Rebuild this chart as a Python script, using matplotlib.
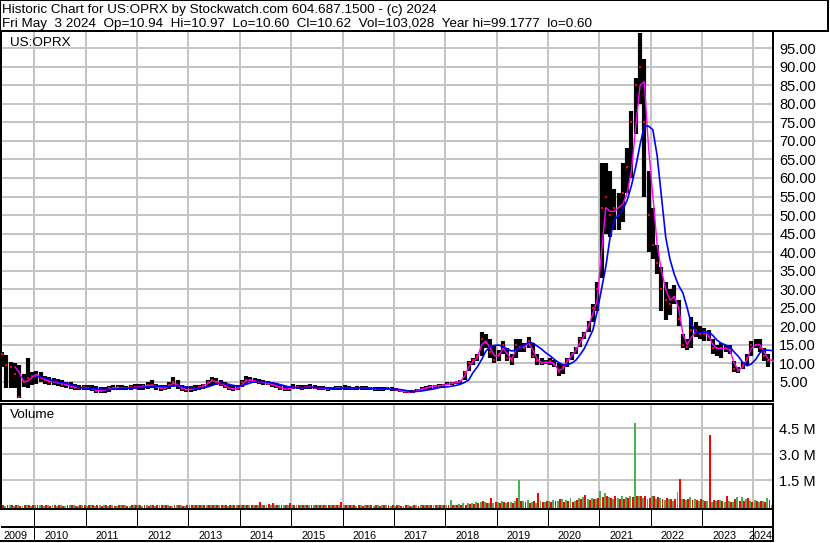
import numpy as np
import pandas as pd
import matplotlib
matplotlib.use("Agg")
import matplotlib.pyplot as plt

# stockwatch style historic chart, monthly bars
title_line = "Historic Chart for US:OPRX by Stockwatch.com 604.687.1500 - (c) 2024"
quote_line = "Fri May  3 2024  Op=10.94  Hi=10.97  Lo=10.60  Cl=10.62  Vol=103,028  Year hi=99.1777  lo=0.60"
symbol = "US:OPRX"

months = pd.period_range("2009-05", "2024-05", freq="M")

high = [
    13.0, 12.2, 10.4, 10.0, 9.5, 7.0, 11.4, 7.5,
    8.0, 7.5, 6.5, 6.2, 6.0, 5.8, 5.5, 5.0, 4.8, 4.5, 4.2, 4.0,
    4.2, 4.0, 3.8, 3.5, 3.6, 3.8, 4.0, 4.2, 4.0, 3.8, 4.0, 4.3,
    4.3, 4.5, 4.8, 5.5, 4.5, 4.0, 4.2, 5.0, 6.3, 5.5, 4.0, 3.8,
    3.8, 4.0, 4.2, 4.5, 5.5, 6.3, 6.0, 5.5, 4.8, 4.2, 3.8, 4.0,
    5.5, 6.5, 6.3, 6.0, 5.8, 5.5, 5.2, 5.0, 4.6, 4.2, 3.9, 3.8,
    4.5, 4.2, 4.0, 4.2, 4.3, 4.0, 3.9, 3.8, 3.6, 3.7, 3.8, 3.9,
    4.0, 3.8, 3.7, 3.8, 3.9, 3.8, 3.7, 3.6, 3.5, 3.5, 3.6, 3.6,
    3.2, 3.0, 2.8, 2.7, 2.8, 3.0, 3.5, 3.8, 4.1, 4.2, 4.3, 4.5,
    4.8, 4.9, 5.0, 5.5, 8.0, 10.5, 11.5, 12.5, 18.5, 18.0, 16.5, 15.0,
    13.5, 16.0, 14.0, 12.5, 16.5, 16.5, 15.5, 17.2, 15.5, 12.5, 11.5, 11.0,
    11.5, 11.0, 10.0, 9.5, 11.5, 13.0, 14.5, 17.0, 18.5, 21.5, 26.0, 32.0,
    64.0, 64.0, 62.0, 57.0, 56.0, 64.0, 68.0, 78.0, 87.0, 99.2, 92.0, 62.0,
    52.0, 42.0, 36.0, 32.0, 30.0, 31.0, 27.0, 18.0, 16.5, 22.5, 21.0, 20.0,
    19.5, 19.0, 16.5, 15.0, 15.5, 15.0, 15.0, 10.5, 9.0, 10.3, 12.5, 16.0,
    16.5, 16.5, 14.0, 12.5, 10.97,
]
low = [
    9.0, 3.3, 3.3, 3.3, 0.6, 3.5, 3.3, 4.0,
    4.5, 4.8, 4.5, 4.2, 4.0, 3.8, 3.5, 3.2, 3.0, 2.9, 2.8, 2.9,
    2.8, 2.5, 2.0, 1.9, 2.0, 2.3, 2.8, 2.9, 2.8, 2.7, 2.8, 3.0,
    2.8, 2.9, 3.0, 3.2, 2.8, 2.6, 2.8, 3.0, 3.5, 3.0, 2.4, 2.3,
    2.3, 2.5, 2.8, 3.0, 3.5, 4.0, 4.0, 3.8, 3.2, 2.8, 2.6, 2.8,
    3.5, 4.5, 4.8, 4.6, 4.4, 4.2, 4.0, 3.6, 3.2, 2.8, 2.6, 2.5,
    3.0, 3.0, 2.9, 3.0, 3.1, 3.0, 2.9, 2.8, 2.6, 2.7, 2.8, 2.9,
    2.9, 2.8, 2.7, 2.8, 2.9, 2.8, 2.7, 2.6, 2.6, 2.6, 2.7, 2.6,
    2.4, 2.2, 2.0, 1.9, 2.0, 2.1, 2.5, 2.8, 3.0, 3.2, 3.3, 3.4,
    4.0, 4.2, 4.3, 4.5, 5.5, 8.0, 9.5, 10.5, 12.0, 14.0, 11.5, 10.0,
    10.5, 12.5, 10.5, 9.5, 11.5, 13.0, 13.0, 14.0, 11.5, 9.5, 9.5, 9.8,
    9.5, 9.0, 6.5, 7.0, 9.0, 11.0, 12.5, 14.5, 16.5, 18.5, 21.0, 24.0,
    33.0, 45.0, 44.0, 46.0, 46.0, 48.0, 56.0, 60.0, 72.0, 80.0, 55.0, 40.0,
    38.0, 34.0, 24.0, 21.6, 23.0, 26.0, 20.0, 14.0, 13.5, 14.0, 17.0, 16.5,
    16.0, 16.0, 12.5, 12.0, 11.5, 13.0, 12.5, 7.5, 7.3, 8.5, 9.5, 12.0,
    14.0, 13.0, 10.5, 9.0, 10.6,
]
close = [
    12.5, 9.5, 9.0, 7.0, 1.0, 5.0, 6.0, 6.5,
    6.5, 6.0, 5.5, 5.0, 4.8, 4.6, 4.2, 4.0, 3.6, 3.4, 3.3, 3.5,
    3.3, 3.0, 2.5, 2.4, 2.8, 3.2, 3.4, 3.5, 3.3, 3.2, 3.5, 3.7,
    3.6, 3.8, 4.0, 4.2, 3.5, 3.2, 3.4, 4.0, 5.0, 3.8, 3.0, 2.8,
    3.0, 3.2, 3.5, 4.0, 4.8, 5.5, 5.0, 4.3, 3.8, 3.2, 3.0, 3.4,
    4.8, 5.6, 5.5, 5.2, 5.0, 4.8, 4.5, 4.2, 3.8, 3.3, 3.0, 3.0,
    3.6, 3.5, 3.4, 3.6, 3.6, 3.4, 3.3, 3.2, 3.0, 3.2, 3.3, 3.4,
    3.4, 3.3, 3.2, 3.3, 3.4, 3.3, 3.2, 3.1, 3.0, 3.1, 3.2, 3.0,
    2.8, 2.5, 2.3, 2.2, 2.4, 2.7, 3.1, 3.4, 3.6, 3.8, 3.9, 4.0,
    4.5, 4.6, 4.8, 5.2, 7.5, 10.0, 11.0, 12.0, 16.5, 15.5, 13.0, 11.0,
    12.5, 15.0, 11.5, 10.5, 15.0, 14.5, 14.0, 16.0, 12.0, 10.5, 10.0, 10.2,
    10.5, 9.5, 7.5, 9.0, 11.0, 12.5, 14.0, 16.5, 18.0, 20.5, 25.0, 30.0,
    52.0, 55.0, 50.0, 52.0, 50.0, 56.0, 63.0, 75.0, 85.0, 90.0, 75.0, 50.0,
    42.0, 37.0, 30.0, 27.0, 26.0, 28.0, 22.0, 15.0, 14.5, 19.0, 19.0, 18.0,
    18.0, 17.0, 14.0, 14.0, 14.0, 14.0, 13.5, 8.5, 8.0, 9.5, 11.5, 15.0,
    15.0, 14.0, 12.0, 10.5, 10.62,
]
ma_short = [
    np.nan, np.nan, np.nan, 9.0, 7.5, 5.0, 5.2, 6.2,
    7.0, 6.2, 5.6, 5.2, 5.0, 4.8, 4.5, 4.2, 3.8, 3.5, 3.4, 3.4,
    3.4, 3.1, 2.7, 2.5, 2.7, 3.0, 3.3, 3.4, 3.3, 3.2, 3.3, 3.5,
    3.6, 3.7, 3.9, 4.1, 3.7, 3.3, 3.3, 3.8, 4.6, 4.2, 3.3, 2.9,
    2.9, 3.1, 3.4, 3.8, 4.5, 5.2, 5.1, 4.6, 4.0, 3.4, 3.1, 3.2,
    4.2, 5.3, 5.4, 5.2, 5.0, 4.8, 4.6, 4.3, 3.9, 3.5, 3.1, 3.0,
    3.4, 3.5, 3.4, 3.5, 3.6, 3.4, 3.3, 3.2, 3.1, 3.1, 3.3, 3.4,
    3.4, 3.3, 3.2, 3.3, 3.4, 3.3, 3.2, 3.1, 3.0, 3.1, 3.1, 3.0,
    2.9, 2.6, 2.4, 2.3, 2.3, 2.6, 3.0, 3.3, 3.6, 3.8, 3.9, 4.0,
    4.3, 4.5, 4.7, 5.0, 6.5, 9.0, 10.5, 11.5, 15.0, 16.0, 14.0, 12.0,
    12.0, 14.0, 12.5, 11.0, 13.5, 14.5, 14.3, 15.5, 13.5, 11.0, 10.2, 10.2,
    10.3, 9.8, 8.0, 8.5, 10.5, 12.0, 13.5, 15.5, 17.5, 20.0, 23.5, 27.0,
    40.0, 52.0, 51.0, 51.0, 52.0, 53.0, 56.0, 62.0, 74.0, 85.0, 86.0, 68.0,
    55.0, 42.0, 35.0, 30.0, 27.0, 28.0, 25.0, 18.0, 15.0, 17.0, 18.5, 18.0,
    18.5, 17.5, 15.0, 14.0, 14.0, 14.0, 13.5, 10.0, 8.0, 9.0, 11.0, 14.0,
    15.0, 15.0, 13.0, 11.0, 10.8,
]
ma_long = [
    np.nan, np.nan, np.nan, np.nan, np.nan, np.nan, np.nan, np.nan,
    6.3, 6.3, 6.0, 5.6, 5.2, 5.0, 4.8, 4.6, 4.2, 3.9, 3.4, 3.3,
    3.2, 3.2, 3.1, 3.0, 2.9, 2.9, 3.0, 3.1, 3.2, 3.2, 3.3, 3.3,
    3.4, 3.5, 3.6, 3.7, 3.8, 3.8, 3.7, 3.7, 3.9, 4.0, 3.8, 3.6,
    3.4, 3.3, 3.3, 3.4, 3.6, 4.0, 4.4, 4.6, 4.5, 4.3, 4.0, 3.8,
    3.9, 4.3, 4.7, 5.0, 5.1, 5.0, 4.9, 4.7, 4.5, 4.2, 3.9, 3.6,
    3.5, 3.4, 3.4, 3.4, 3.5, 3.5, 3.4, 3.4, 3.3, 3.2, 3.2, 3.2,
    3.3, 3.3, 3.3, 3.3, 3.3, 3.3, 3.2, 3.2, 3.1, 3.1, 3.1, 3.0,
    3.0, 2.9, 2.7, 2.5, 2.4, 2.4, 2.5, 2.7, 2.9, 3.1, 3.4, 3.6,
    3.6, 3.8, 4.0, 4.3, 4.8, 5.5, 7.5, 9.0, 11.0, 13.3, 14.5, 14.8,
    14.9, 14.5, 13.8, 13.3, 13.5, 14.2, 15.0, 15.6, 15.4, 14.6, 13.8, 12.8,
    12.0, 11.0, 10.2, 9.6, 9.6, 10.0, 10.8, 12.3, 14.0, 16.5, 19.0, 24.0,
    30.0, 36.0, 44.0, 48.6, 50.0, 51.5, 54.0, 58.0, 63.0, 69.0, 74.0, 74.0,
    73.0, 66.0, 55.0, 44.0, 38.0, 34.0, 31.0, 29.0, 25.0, 20.5, 18.5, 18.2,
    18.3, 18.5, 17.5, 16.2, 15.4, 14.9, 14.4, 13.0, 11.8, 10.2, 9.3, 9.8,
    11.0, 12.8, 13.6, 13.5, 13.4,
]
# volume in millions, up days (green) and down days (red)
vol_up = [
    .03, .02, .04, .02, .03, .02, .03, .02,
    .03, .04, .02, .03, .05, .02, .03, .02, .04, .03, .02, .03,
    .02, .03, .02, .04, .03, .02, .03, .02, .03, .04, .02, .03,
    .03, .02, .04, .03, .02, .03, .05, .03, .02, .03, .04, .02,
    .03, .04, .03, .05, .06, .04, .03, .04, .03, .02, .03, .04,
    .05, .08, .06, .04, .05, .04, .03, .04, .05, .03, .04, .03,
    .04, .03, .05, .04, .03, .04, .03, .05, .04, .03, .04, .03,
    .03, .04, .03, .02, .03, .04, .03, .02, .03, .04, .03, .02,
    .02, .03, .02, .03, .02, .03, .04, .03, .05, .04, .06, .05,
    .05, .35, .08, .10, .15, .18, .15, .25, .20, .25, .15, .18,
    .22, .30, .18, .22, .30, 1.50, .30, .35, .22, .18, .30, .25,
    .30, .35, .30, .40, .35, .45, .30, .45, .50, .40, .45, .40,
    .89, .75, .50, .40, .45, .60, .50, .55, 4.80, .60, .45, .40,
    .60, .40, .45, .35, .40, .30, .80, .40, .35, .50, .40, .30,
    .35, .30, .25, .30, .35, .25, .30, .25, .50, .50, .40, .30,
    .35, .25, .30, .45, .08,
]
vol_down = [
    .04, .03, .03, .05, .02, .04, .03, .03,
    .05, .03, .04, .02, .03, .04, .02, .05, .03, .02, .04, .03,
    .03, .04, .03, .02, .04, .03, .02, .04, .03, .02, .03, .04,
    .04, .03, .02, .04, .03, .05, .03, .02, .04, .03, .02, .03,
    .04, .03, .05, .04, .08, .05, .04, .03, .05, .04, .03, .04,
    .05, .04, .06, .05, .20, .08, .12, .18, .05, .06, .04, .15,
    .03, .05, .04, .03, .04, .03, .05, .04, .03, .04, .05, .20,
    .04, .03, .04, .03, .02, .03, .04, .03, .02, .03, .04, .03,
    .03, .02, .03, .02, .03, .02, .03, .04, .03, .05, .04, .06,
    .06, .08, .07, .08, .08, .12, .10, .15, .30, .18, .45, .25,
    .18, .22, .25, .15, .45, .28, .22, .18, .28, .77, .22, .28,
    .22, .28, .40, .22, .28, .25, .35, .40, .64, .35, .40, .45,
    .50, .60, .45, .55, .40, .40, .45, .50, .60, .55, .60, .46,
    .55, .50, .40, .45, .38, .40, 1.56, .40, .40, .35, .35, .40,
    .30, 4.10, .35, .35, .30, .55, .25, .40, .30, .28, .45, .25,
    .30, .30, .20, .35, .12,
]

year_labels = list(range(2009, 2025))
price_ticks = list(range(5, 100, 5))
vol_ticks = [1.5, 3.0, 4.5]

plt.rcParams["font.family"] = ["Liberation Sans Narrow", "Liberation Sans", "DejaVu Sans"]

W, H = 830, 543
def box(l, t, r, b):
    return [l / W, 1 - b / H, (r - l) / W, (b - t) / H]

t = months.year + (months.month - 0.5) / 12
xlim = (2009.352, 2024.38)
grid_c = "#c4c4c4"
frame_lw = 1.44
text_size = 9.7

fig = plt.figure(figsize=(8.3, 5.43), dpi=100)

# header box
hdr = fig.add_axes(box(0, 0, 828, 31))
hdr.set_xticks([])
hdr.set_yticks([])
for s in hdr.spines.values():
    s.set_linewidth(frame_lw)
fig.text(2 / W, 1 - 12.7 / H, title_line, fontsize=text_size, va="baseline")
fig.text(2 / W, 1 - 26.7 / H, quote_line, fontsize=text_size, va="baseline")

def style_panel(a, ticks, labels):
    a.set_xlim(*xlim)
    a.set_xticks([])
    a.set_yticks(ticks)
    a.set_yticklabels(labels)
    a.yaxis.tick_right()
    a.tick_params(axis="y", length=0, pad=4.5, labelsize=10.5)
    # crisp 1px grid like the original
    a.vlines(year_labels[1:], 0, 1, transform=a.get_xaxis_transform(),
             color=grid_c, lw=1.4, antialiased=False, zorder=1)
    a.hlines(ticks, 0, 1, transform=a.get_yaxis_transform(),
             color=grid_c, lw=1.4, antialiased=False, zorder=1)
    for s in a.spines.values():
        s.set_linewidth(frame_lw)

# price panel
ax = fig.add_axes(box(1, 31, 773, 401))
ax.set_ylim(-0.2, 99.68)
style_panel(ax, price_ticks, [f"{v:.2f}" for v in price_ticks])
ax.vlines(t, low, high, color="black", lw=3.0, zorder=2)
ax.plot(t, close, ls="none", marker="s", ms=1.8, mew=0, color="red", zorder=3)
ax.plot(t, ma_short, color="magenta", lw=1.0, zorder=4)
ax.plot(t, ma_long, color="blue", lw=1.2, zorder=4)
ax.text(9 / 772, 1 - 15.5 / 370, symbol, transform=ax.transAxes, fontsize=text_size, va="baseline")

# volume panel
vmin = -0.15
axv = fig.add_axes(box(1, 403.5, 773, 508.5))
axv.set_ylim(vmin, 5.94)
style_panel(axv, vol_ticks, [f"{v:.1f} M" for v in vol_ticks])
bw = 0.45 / 12
axv.bar(t - 0.25 / 12, np.array(vol_up) - vmin, bottom=vmin, width=bw, color="#4caf50", lw=0, zorder=2)
axv.bar(t + 0.25 / 12, np.array(vol_down) - vmin, bottom=vmin, width=bw, color="#ff0000", lw=0, zorder=2)
axv.text(9 / 772, 1 - 14 / 105, "Volume", transform=axv.transAxes, fontsize=text_size, va="baseline")

# date strip
axd = fig.add_axes(box(1, 508.5, 773, 541))
axd.set_xlim(*xlim)
axd.set_ylim(0, 1)
axd.set_xticks([])
axd.set_yticks([])
axd.spines["left"].set_visible(False)
for s in axd.spines.values():
    s.set_linewidth(frame_lw)
split = 14 / 32.5
axd.axhline(split, color="black", lw=frame_lw)
axd.vlines(year_labels[1:-1], split, 1, color="black", lw=0.7, antialiased=False)
axd.vlines([year_labels[1], year_labels[-1]], 0, split, color="black", lw=0.7, antialiased=False)
for yr in year_labels:
    if yr == year_labels[0]:
        xpos = xlim[0] + 2 / 51.37
    elif yr == year_labels[-1]:
        xpos = yr - 4.5 / 51.37
    else:
        xpos = yr + 10 / 51.37
    axd.text(xpos, 0.06, str(yr), fontsize=7.8, va="baseline", ha="left", clip_on=False)

fig.savefig("out.png", dpi=100)
